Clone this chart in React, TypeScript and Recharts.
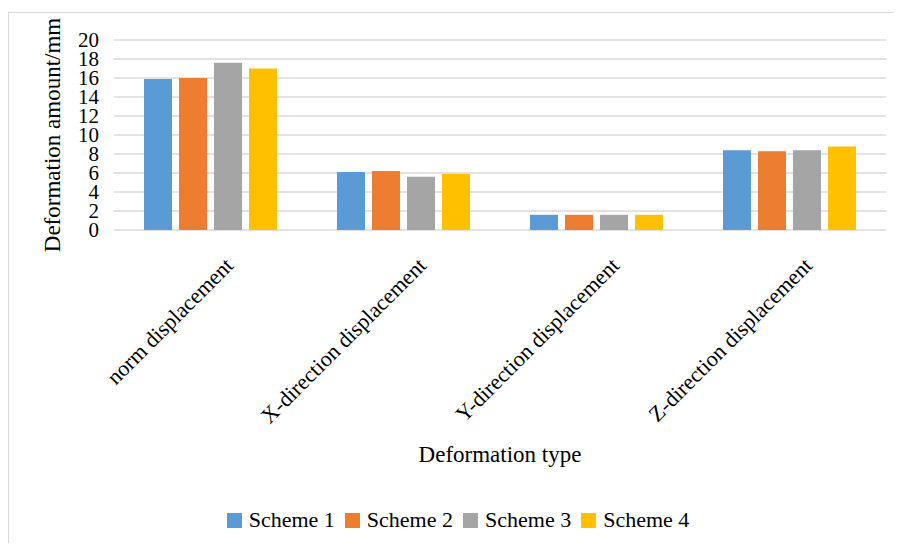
import { BarChart, Bar, XAxis, YAxis, CartesianGrid, Legend } from 'recharts';

const categories = ['norm displacement', 'X-direction displacement', 'Y-direction displacement', 'Z-direction displacement'];
const scheme1 = [15.9, 6.1, 1.6, 8.4];
const scheme2 = [16.0, 6.2, 1.6, 8.3];
const scheme3 = [17.6, 5.6, 1.6, 8.4];
const scheme4 = [17.0, 5.9, 1.6, 8.8];
const yTicks = [0, 2, 4, 6, 8, 10, 12, 14, 16, 18, 20];

const seriesNames = ['Scheme 1', 'Scheme 2', 'Scheme 3', 'Scheme 4'];
const colors = ['#5B9BD5', '#ED7D31', '#A5A5A5', '#FFC000'];

const data = categories.map((name, i) => ({
  name,
  s1: scheme1[i],
  s2: scheme2[i],
  s3: scheme3[i],
  s4: scheme4[i],
}));

const FONT = '"Liberation Serif", "Times New Roman", serif';

function AngledTick(props: any) {
  const { x, y, payload } = props;
  return (
    <g transform={`translate(${x + 24},${y + 37})`}>
      <text x={0} y={0} textAnchor="end" transform="rotate(-45)" fill="#000" fontSize={22} fontFamily={FONT}>
        {payload.value}
      </text>
    </g>
  );
}

function LegendBox() {
  return (
    <div style={{ display: 'flex', justifyContent: 'center', alignItems: 'center', paddingLeft: 24, fontFamily: FONT, fontSize: 22, color: '#000' }}>
      {seriesNames.map((n, i) => (
        <span key={n} style={{ display: 'flex', alignItems: 'center', marginRight: 10 }}>
          <span style={{ width: 15, height: 15, background: colors[i], display: 'inline-block', marginRight: 7 }} />
          {n}
        </span>
      ))}
    </div>
  );
}

export default function App() {
  return (
    <div style={{ position: 'relative', width: 886, height: 535, overflow: 'hidden' }}>
      <div style={{ position: 'absolute', left: 0, top: 4, width: 900, height: 600, borderTop: '1px solid #d9d9d9', borderLeft: '1px solid #d9d9d9' }} />
      <div style={{ position: 'absolute', left: 0, top: 0 }}>
        <BarChart width={886} height={535} data={data} margin={{ top: 32, right: 8, left: 0, bottom: 0 }} barSize={28} barGap={7}>
          <CartesianGrid horizontal vertical={false} stroke="#d9d9d9" strokeWidth={1.5} />
          <XAxis
            dataKey="name"
            height={313}
            interval={0}
            axisLine={false}
            tickLine={false}
            tickSize={0}
            tickMargin={0}
            tick={<AngledTick />}
            label={{ value: 'Deformation type', position: 'insideBottom', offset: 81, style: { fontSize: 23, fontFamily: FONT, fill: '#000' } }}
          />
          <YAxis
            width={106}
            domain={[0, 20]}
            ticks={yTicks}
            interval={0}
            axisLine={false}
            tickLine={false}
            tickSize={0}
            tickMargin={15}
            tick={{ fontSize: 21, fontFamily: FONT, fill: '#000' }}
            label={{ value: 'Deformation amount/mm', angle: -90, position: 'insideLeft', offset: 44, style: { textAnchor: 'middle', fontSize: 23, fontFamily: FONT, fill: '#000' } }}
          />
          <Legend verticalAlign="middle" layout="horizontal" content={<LegendBox />} wrapperStyle={{ top: 499, left: 0, width: 886 }} />
          <Bar dataKey="s1" name={seriesNames[0]} fill={colors[0]} isAnimationActive={false} />
          <Bar dataKey="s2" name={seriesNames[1]} fill={colors[1]} isAnimationActive={false} />
          <Bar dataKey="s3" name={seriesNames[2]} fill={colors[2]} isAnimationActive={false} />
          <Bar dataKey="s4" name={seriesNames[3]} fill={colors[3]} isAnimationActive={false} />
        </BarChart>
      </div>
    </div>
  );
}
